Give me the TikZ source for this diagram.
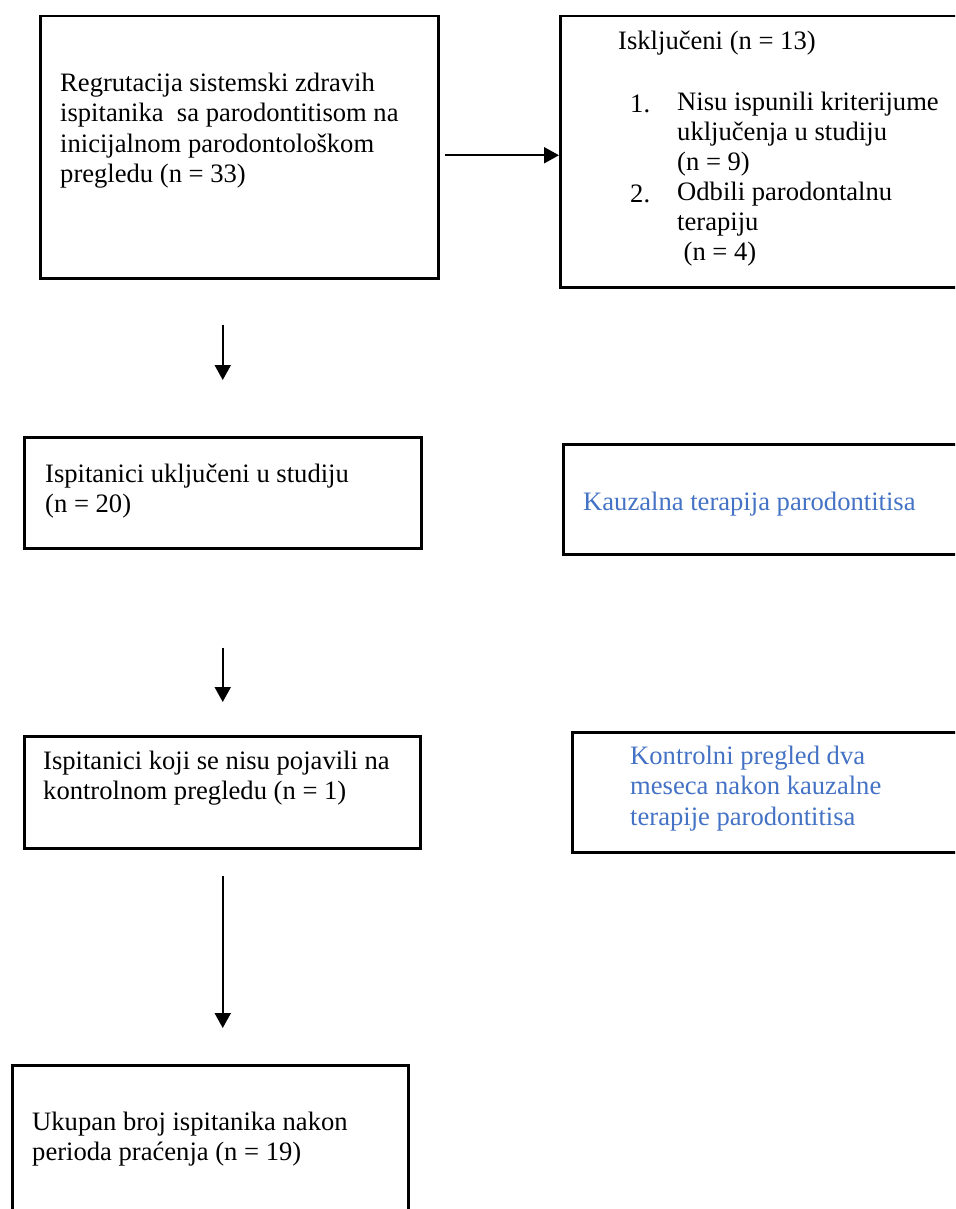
\documentclass[tikz,border=0pt]{standalone}
\usepackage{fontspec}
\setmainfont{Liberation Serif}
\usetikzlibrary{arrows.meta,calc}
\definecolor{wordblue}{HTML}{4472C4}
\begin{document}
\begin{tikzpicture}[x=1pt,y=-1pt,
  box/.style={draw, line width=2.5pt, rectangle, anchor=north west, inner sep=0pt},
  txt/.style={anchor=north west, inner sep=0pt, align=left,
    font=\fontsize{26.6}{30.5}\selectfont, execute at begin node=\strut},
  txtb/.style={txt, font=\fontsize{26.6}{30}\selectfont},
  bluetxt/.style={txt, text=wordblue},
  arr/.style={line width=2pt, -{Triangle[length=15pt,width=16pt]}}]
\clip (0,0) rectangle (955,1209);
% boxes
\node[box, minimum width=398pt, minimum height=262pt] (box1) at (39,15) {};
\node[box, minimum width=406pt, minimum height=271pt] (box2) at (559,15) {};
\node[box, minimum width=397pt, minimum height=111pt] (box3) at (23,436) {};
\node[box, minimum width=403pt, minimum height=110pt] (box4) at (562,443) {};
\node[box, minimum width=396pt, minimum height=112pt] (box5) at (23,735) {};
\node[box, minimum width=394pt, minimum height=120pt] (box6) at (571,731) {};
\node[box, minimum width=396pt, minimum height=160pt] (box7) at (11,1064) {};
% texts
\node[txt] (t1) at (60,72.65) {Regrutacija sistemski zdravih\\ispitanika \ sa parodontitisom na\\inicijalnom parodontološkom\\pregledu (n = 33)};
\node[txtb] (t2h) at (618,28.65) {Isključeni (n = 13)};
\node[txtb] (n1) at (630,91.65) {1.};
\node[txtb] (n2) at (630,181.65) {2.};
\node[txtb] (t2) at (677,91.65) {Nisu ispunili kriterijume\\uključenja u studiju\\(n = 9)\\Odbili parodontalnu\\terapiju\\\hspace*{6.5pt}(n = 4)};
\node[txt] (t3) at (45,463.65) {Ispitanici uključeni u studiju\\(n = 20)};
\node[bluetxt] (t4) at (583,488.65) {Kauzalna terapija parodontitisa};
\node[txt] (t5) at (43,750.65) {Ispitanici koji se nisu pojavili na\\kontrolnom pregledu (n = 1)};
\node[bluetxt] (t6) at (630,745.65) {Kontrolni pregled dva\\meseca nakon kauzalne\\terapije parodontitisa};
\node[txt] (t7) at (32,1111.65) {Ukupan broj ispitanika nakon\\perioda praćenja (n = 19)};
% arrows
\draw[arr] ($(box1.east)+(5pt,-8pt)$) -- ($(box1.east -| box2.west)+(0pt,-8pt)$);
\draw[arr] ($(box1.south -| box3.north)+(0pt,-45pt)$) -- ($(box3.north)+(0pt,56pt)$);
\draw[arr] ($(box3.south)+(0pt,-98pt)$) -- ($(box5.north -| box3.south)+(0pt,33pt)$);
\draw[arr] ($(box5.south -| box3.south)+(0pt,-26pt)$) -- ($(box7.north -| box3.south)+(0pt,36pt)$);
\end{tikzpicture}
\end{document}
